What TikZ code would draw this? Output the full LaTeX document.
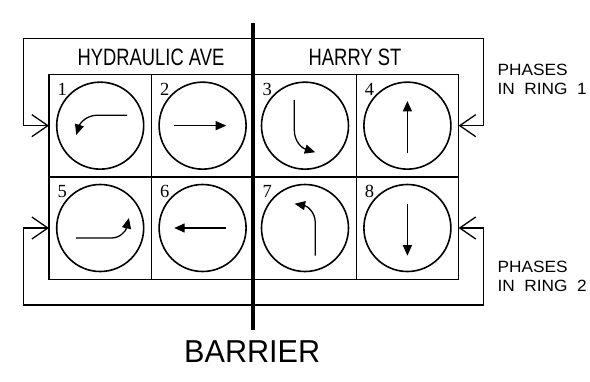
\documentclass[tikz,border=0pt]{standalone}
\usepackage{fontspec}
\setmainfont{Liberation Sans}
\newfontfamily\numfont{Liberation Serif}
\usetikzlibrary{arrows.meta}
\begin{document}
\begin{tikzpicture}[x=1pt,y=-1pt,
  cell/.style={draw,line width=1.3pt,minimum width=102.4pt,minimum height=102.3pt,inner sep=0pt,outer sep=0pt},
  phase/.style={draw,circle,line width=1.6pt,minimum size=87pt,inner sep=0pt},
  sym/.style={line width=1.3pt,-{Triangle[length=10.5pt,width=9pt]}},
  ringline/.style={line width=1.3pt,{Straight Barb[length=16pt,width=22pt,line width=1.3pt]}-{Straight Barb[length=16pt,width=22pt,line width=1.3pt]}},
  num/.style={font=\numfont\fontsize{18.5}{18.5}\selectfont,anchor=base west,inner sep=0pt},
  street/.style={font=\fontsize{23.7}{24}\selectfont,xscale=0.775,anchor=base,inner sep=0pt},
  ringlbl/.style={font=\fontsize{16.3}{17}\selectfont,xscale=1.06,anchor=base west,inner sep=0pt},
  barrierlbl/.style={font=\fontsize{31.7}{32}\selectfont,xscale=0.965,anchor=base west,inner sep=0pt},
  barrierline/.style={line width=4pt}
]
\useasboundingbox (0,0) rectangle (590,381);

% grid cells
\node[cell] (c1) at (100.2,125.65) {};
\node[cell] (c2) at (202.6,125.65) {};
\node[cell] (c3) at (305.0,125.65) {};
\node[cell] (c4) at (407.4,125.65) {};
\node[cell] (c5) at (100.2,228.0) {};
\node[cell] (c6) at (202.6,228.0) {};
\node[cell] (c7) at (305.0,228.0) {};
\node[cell] (c8) at (407.4,228.0) {};

% phase circles
\foreach \i in {1,...,8} {\node[phase] (ci\i) at (c\i.center) {};}

% numbers
\foreach \i in {1,...,8} {\node[num] (n\i) at ([shift={(8.5,20.5)}]c\i.north west) {\i};}

% movement symbols
\begin{scope}[shift={(ci1.center)}]
  \draw[sym] (27,-10.4) -- (-3.3,-10.4) .. controls (-13,-10.4) and (-20,-3) .. (-24,9.3);
\end{scope}
\begin{scope}[shift={(ci2.center)}]
  \draw[sym] (-28.4,0) -- (23.6,0);
\end{scope}
\begin{scope}[shift={(ci3.center)}]
  \draw[sym] (-10.7,-25.7) -- (-10.7,4.3) .. controls (-10.7,16) and (-3,22.5) .. (10.3,26.6);
\end{scope}
\begin{scope}[shift={(ci4.center)}]
  \draw[sym] (0,27.6) -- (0,-24.7);
\end{scope}
\begin{scope}[shift={(ci5.center)}]
  \draw[sym] (-24,10) -- (11.4,10) .. controls (19.7,10) and (25.7,3) .. (28.7,-10);
\end{scope}
\begin{scope}[shift={(ci6.center)}]
  \draw[sym] (23.6,0) -- (-28.4,0);
\end{scope}
\begin{scope}[shift={(ci7.center)}]
  \draw[sym] (10.3,27.7) -- (10.3,-5.3) .. controls (10.3,-16) and (2,-22) .. (-10.4,-24.3);
\end{scope}
\begin{scope}[shift={(ci8.center)}]
  \draw[sym] (0,-24) -- (0,27.7);
\end{scope}

% rings
\coordinate (r1a) at (23.3,38.7);
\coordinate (r1b) at (483.7,38.7);
\coordinate (r2a) at (23.3,305);
\coordinate (r2b) at (483.7,305);
\draw[ringline] (c4.east) -| (r1b) -- (r1a) |- (c1.west);
\draw[ringline] (c8.east) -| (r2b) -- (r2a) |- (c5.west);

% labels
\node[street] (hyd) at (151,65.7) {HYDRAULIC AVE};
\node[street] (harry) at (355,65.7) {HARRY ST};
\node[ringlbl] (p1a) at (497.3,75) {PHASES};
\node[ringlbl] (p1b) at (497.3,94.3) {IN\hspace{4.5pt} RING\hspace{4.5pt} 1};
\node[ringlbl] (p2a) at (497.3,272.3) {PHASES};
\node[ringlbl] (p2b) at (497.3,291.7) {IN\hspace{4.5pt} RING\hspace{4.5pt} 2};

% barrier
\coordinate (bt) at (252.6,23.3);
\coordinate (bb) at (252.6,330);
\draw[barrierline] (bt) -- (bb);
\node[barrierlbl] (bar) at (184,362.7) {BARRIER};
\end{tikzpicture}
\end{document}
